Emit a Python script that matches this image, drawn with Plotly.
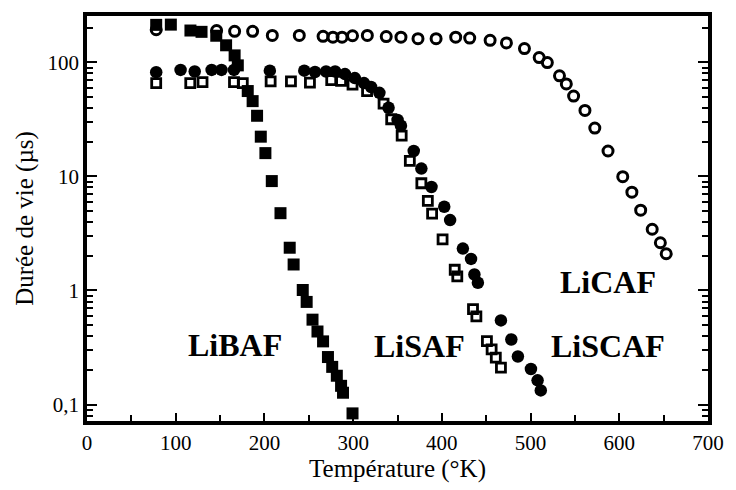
import plotly.graph_objects as go

# ---- data (temperature K, lifetime µs) ----
libaf_T = [78, 94.5, 116.6, 129.1, 145.7, 156.8, 166.4, 170.0, 181.2, 186.7, 191.7, 195.9,
           201.1, 208.3, 218.1, 228.5, 232.9, 243.2, 247.6, 254.2, 259.8, 266.1, 271.6,
           276.4, 281.6, 286.4, 288.6, 299.3]
libaf_tau = [213, 214, 190, 185, 171, 141, 115, 94, 56, 45.7, 34, 22.3, 16.0, 9.1, 4.76,
             2.37, 1.69, 1.01, 0.794, 0.555, 0.437, 0.358, 0.261, 0.214, 0.179, 0.146,
             0.127, 0.0837]

licaf_T = [78, 146.1, 166.4, 186.7, 208.9, 239.3, 266.1, 277.2, 287.5, 299.3, 316.0, 337.3,
           353.9, 373.1, 393.5, 415.6, 431.4, 454.4, 472.8, 493.1, 509.7, 518.9, 532.6,
           540.3, 548.5, 561.3, 572.4, 587.3, 603.9, 614.2, 624.1, 637.1, 646.3, 652.9]
licaf_tau = [193, 190, 187, 187, 172, 172, 169, 166, 166, 171, 172, 168, 166, 161, 161, 166,
             163, 156, 148, 132, 110, 99.4, 76.2, 64.6, 50.6, 37.9, 26.5, 16.7, 9.95, 7.28,
             5.06, 3.44, 2.62, 2.10]

liscaf_T = [78, 105.5, 121.4, 140.5, 151.6, 165.7, 206.1, 244.9, 257.0, 269.5, 279.7, 290.8,
            301.9, 312.2, 320.2, 329.6, 339.9, 350.1, 353.9, 368.3, 376.9, 388.3, 402.7,
            409.3, 423.7, 432.9, 436.7, 440.6, 466.6, 478.3, 485.7, 500.4, 507.9, 511.5]
liscaf_tau = [82, 85.8, 83.1, 85.8, 85.8, 85.8, 84.5, 84.5, 82.3, 83.1, 83.1, 78.8, 72.7,
              65.8, 60.8, 54.0, 40.0, 31.2, 27.8, 16.7, 11.7, 8.07, 5.42, 4.14, 2.33, 1.89,
              1.38, 1.17, 0.547, 0.372, 0.264, 0.205, 0.163, 0.133]

lisaf_T = [78, 116.4, 130.2, 165.7, 175.6, 207.0, 229.9, 251.3, 275.3, 286.4, 299.3, 315.7,
           334.3, 342.9, 354.7, 363.9, 376.9, 384.2, 389.0, 400.8, 414.5, 417.4, 435.1,
           438.9, 450.8, 456.1, 460.8, 466.6]
lisaf_tau = [65.8, 65.8, 67.1, 67.1, 65.8, 68.1, 68.1, 66.5, 69.8, 68.8, 63.7, 55.8, 43.4,
             31.7, 22.8, 13.7, 8.71, 6.09, 4.72, 2.80, 1.52, 1.33, 0.687, 0.593, 0.360,
             0.305, 0.258, 0.211]

labels = ["LiBAF", "LiSAF", "LiCAF", "LiSCAF"]
y_tickvals = [0.1, 1, 10, 100]
y_ticktext = ["0,1", "1", "10", "100"]
x_tickvals = [0, 100, 200, 300, 400, 500, 600, 700]

FONT = "Liberation Serif"

fig = go.Figure()
fig.add_trace(go.Scatter(x=licaf_T, y=licaf_tau, mode="markers", name="LiCAF",
                         marker=dict(symbol="circle-open", size=10, color="black",
                                     line=dict(width=3, color="black"))))
fig.add_trace(go.Scatter(x=liscaf_T, y=liscaf_tau, mode="markers", name="LiSCAF",
                         marker=dict(symbol="circle", size=12.5, color="black")))
fig.add_trace(go.Scatter(x=lisaf_T, y=lisaf_tau, mode="markers", name="LiSAF",
                         marker=dict(symbol="square-open", size=9, color="black",
                                     line=dict(width=2.8, color="black"))))
fig.add_trace(go.Scatter(x=libaf_T, y=libaf_tau, mode="markers", name="LiBAF",
                         marker=dict(symbol="square", size=12, color="black")))

ann_pos = [(0.238, 0.187), (0.536, 0.185), (0.839, 0.343), (0.839, 0.185)]
for lab, (ax, ay) in zip(labels, ann_pos):
    fig.add_annotation(text="<b>" + lab + "</b>", x=ax, y=ay, xref="paper", yref="paper",
                       showarrow=False, font=dict(family=FONT, size=32, color="black"),
                       xanchor="center", yanchor="middle")

minor_y = [0.08, 0.09] + [m * 10 ** e for e in (-1, 0, 1) for m in range(2, 10)] + [200]

fig.update_layout(
    width=736, height=490,
    margin=dict(l=87, r=18, t=12, b=67),
    paper_bgcolor="white", plot_bgcolor="white",
    showlegend=False,
    font=dict(family=FONT, size=20, color="black"),
    xaxis=dict(range=[0, 700], tickvals=x_tickvals, ticks="inside", ticklen=8, tickwidth=2,
               tickcolor="black", showline=True, linewidth=3.5, linecolor="black",
               mirror=True, showgrid=False, zeroline=False,
               minor=dict(ticks="inside", dtick=50, tick0=0, ticklen=6, tickwidth=2,
                          tickcolor="black", showgrid=False),
               title=dict(text="Température (°K)", font=dict(family=FONT, size=25), standoff=6),
               tickfont=dict(family=FONT, size=21)),
    yaxis=dict(type="log", range=[-1.144, 2.406], tickvals=y_tickvals, ticktext=y_ticktext,
               ticks="inside", ticklen=10, tickwidth=2, tickcolor="black",
               showline=True, linewidth=3.5, linecolor="black", mirror="ticks",
               showgrid=False, zeroline=False,
               minor=dict(ticks="inside", tickvals=minor_y, ticklen=6, tickwidth=2,
                          tickcolor="black", showgrid=False),
               title=dict(text="Durée de vie (µs)", font=dict(family=FONT, size=25), standoff=8),
               tickfont=dict(family=FONT, size=21)),
)

fig.write_html("out.html")
